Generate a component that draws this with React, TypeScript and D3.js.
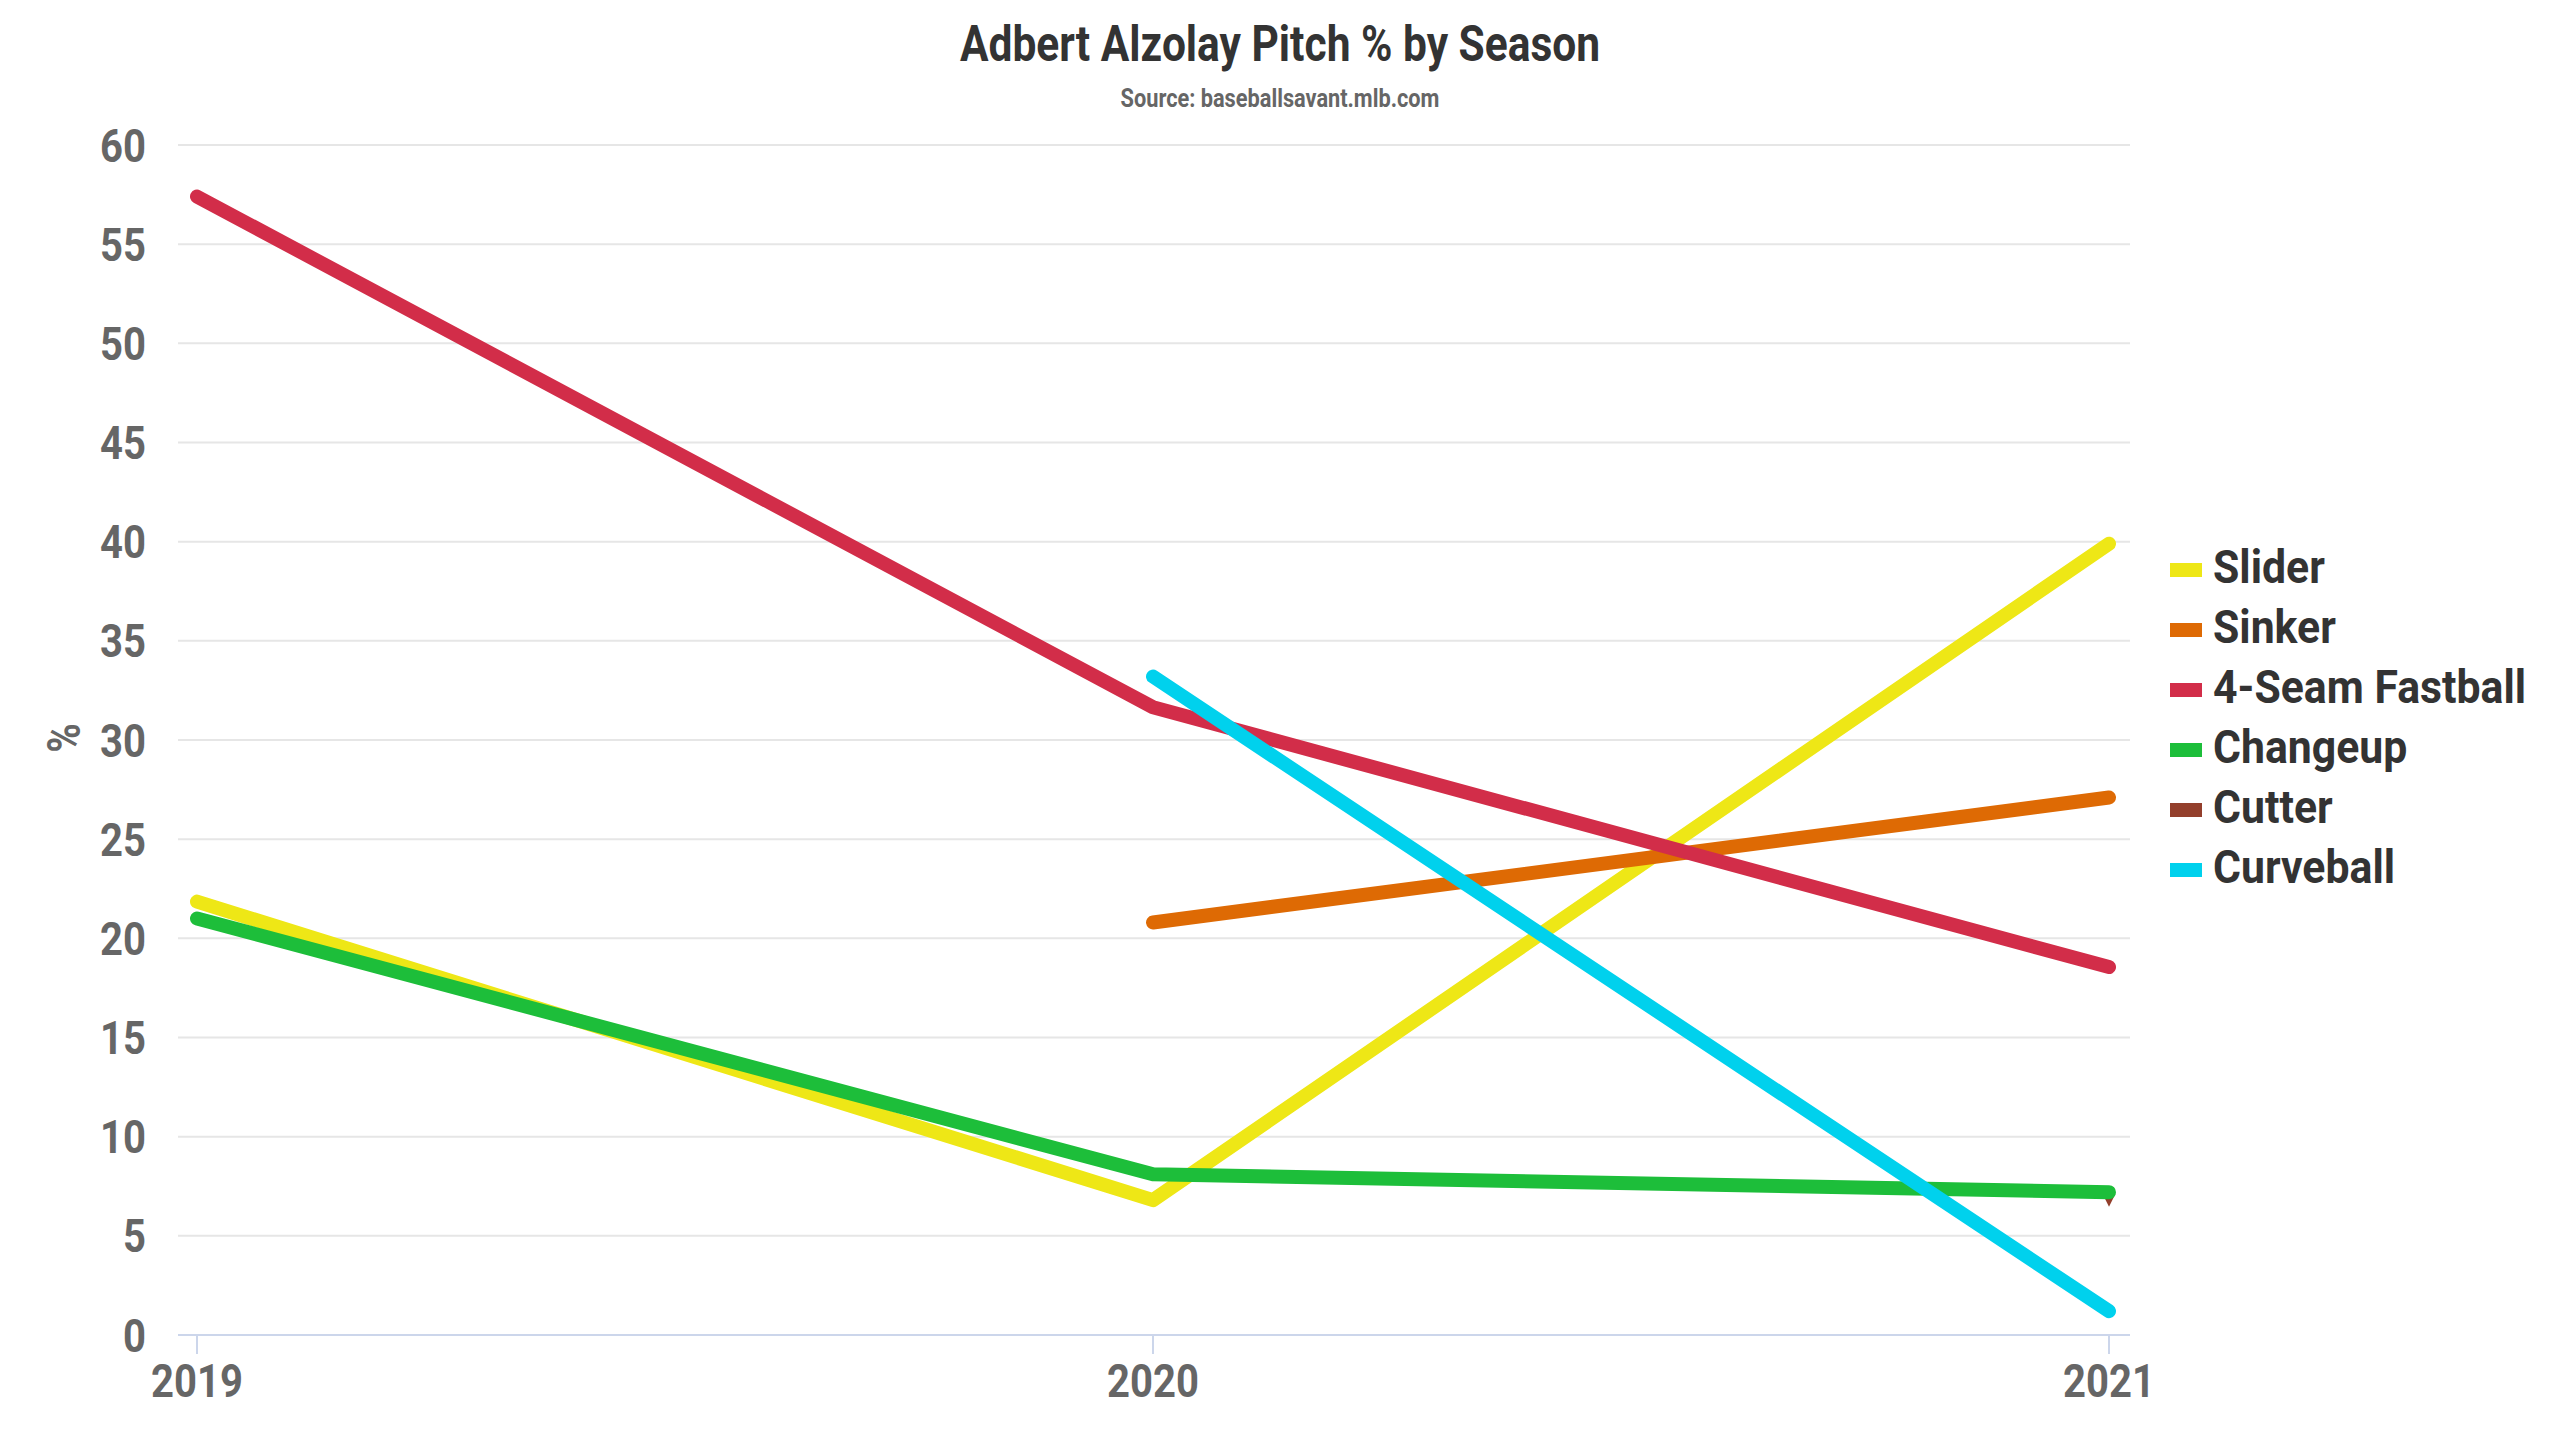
import React from "react";
import * as d3 from "d3";

const seasons = [2019, 2020, 2021];
const seriesNames = ["Slider", "Sinker", "4-Seam Fastball", "Changeup", "Cutter", "Curveball"];
const seriesColors = ["#EEE716", "#DE6A04", "#D22D49", "#1DBE3A", "#933F2C", "#00D1ED"];
const slider = [21.85, 6.8, 39.9];
const sinker = [null, 20.8, 27.1];
const fourSeam = [57.4, 31.65, 18.55];
const changeup = [21.0, 8.1, 7.2];
const cutter = [null, null, 6.8];
const curveball = [null, 33.2, 1.2];
const yTicks = [0, 5, 10, 15, 20, 25, 30, 35, 40, 45, 50, 55, 60];

const W = 2560;
const H = 1440;
const FONT = "Roboto, 'Noto Sans', sans-serif";

const plotLeft = 178;
const plotRight = 2130;
const plotTop = 145;
const plotBottom = 1335;

const x = d3.scaleLinear().domain([2019, 2021]).range([197, 2109]);
const y = d3.scaleLinear().domain([0, 60]).range([plotBottom, plotTop]);

function T({ x: tx, y: ty, anchor = "start", size, color, children, rotate = 0, sx = 0.87 }: any) {
  return (
    <text
      transform={`translate(${tx},${ty}) rotate(${rotate}) scale(${sx},1)`}
      textAnchor={anchor}
      fontFamily={FONT}
      fontWeight={700}
      fontSize={size}
      fill={color}
    >
      {children}
    </text>
  );
}

export default function App() {
  const allSeries = [slider, sinker, fourSeam, changeup, cutter, curveball];
  const drawOrder = [0, 1, 2, 4, 3, 5];
  const line = d3
    .line<[number, number | null]>()
    .defined((d) => d[1] !== null)
    .x((d) => x(d[0]))
    .y((d) => y(d[1] as number));

  return (
    <svg
      width={W}
      height={H}
      style={{ position: "absolute", left: 0, top: 0, background: "#fff" }}
    >
      <rect x={0} y={0} width={W} height={H} fill="#fff" />
      <T x={1280} y={61} anchor="middle" size={50} color="#333333" sx={0.85}>
        Adbert Alzolay Pitch % by Season
      </T>
      <T x={1280} y={107} anchor="middle" size={25} color="#666666">
        Source: baseballsavant.mlb.com
      </T>

      {yTicks.filter((t) => t > 0).map((t) => (
        <line key={t} x1={plotLeft} x2={plotRight} y1={y(t)} y2={y(t)} stroke="#e6e6e6" strokeWidth={2} />
      ))}
      {yTicks.map((t) => (
        <T key={"l" + t} x={146} y={y(t) + 16.5} anchor="end" size={46} color="#666666">
          {t}
        </T>
      ))}
      <T x={80} y={738} anchor="middle" size={46} color="#666666" rotate={-90}>
        %
      </T>

      <line x1={plotLeft} x2={plotRight} y1={plotBottom} y2={plotBottom} stroke="#ccd6eb" strokeWidth={2} />
      {seasons.map((s) => (
        <g key={s}>
          <line x1={x(s)} x2={x(s)} y1={plotBottom} y2={plotBottom + 19} stroke="#ccd6eb" strokeWidth={2} />
          <T x={x(s)} y={1397} anchor="middle" size={46} color="#666666">
            {s}
          </T>
        </g>
      ))}

      {drawOrder.map((i) => {
        const vals = allSeries[i];
        const pts = seasons.map((s, k) => [s, vals[k]] as [number, number | null]);
        const nonNull = pts.filter((p) => p[1] !== null);
        if (nonNull.length === 1) {
          const [px, pv] = nonNull[0];
          const cx = x(px);
          const cy = y(pv as number);
          const r = 6.5;
          return (
            <path
              key={i}
              d={`M${cx - r},${cy - r}L${cx + r},${cy - r}L${cx},${cy + r}Z`}
              fill={seriesColors[i]}
            />
          );
        }
        return (
          <path
            key={i}
            d={line(pts) || ""}
            fill="none"
            stroke={seriesColors[i]}
            strokeWidth={14}
            strokeLinecap="round"
            strokeLinejoin="round"
          />
        );
      })}

      {seriesNames.map((name, i) => (
        <g key={name}>
          <rect x={2170} y={570 + i * 60 - 7} width={32} height={14} fill={seriesColors[i]} />
          <T x={2213} y={570 + i * 60 + 13} size={46} color="#333333" sx={0.93}>
            {name}
          </T>
        </g>
      ))}
    </svg>
  );
}
